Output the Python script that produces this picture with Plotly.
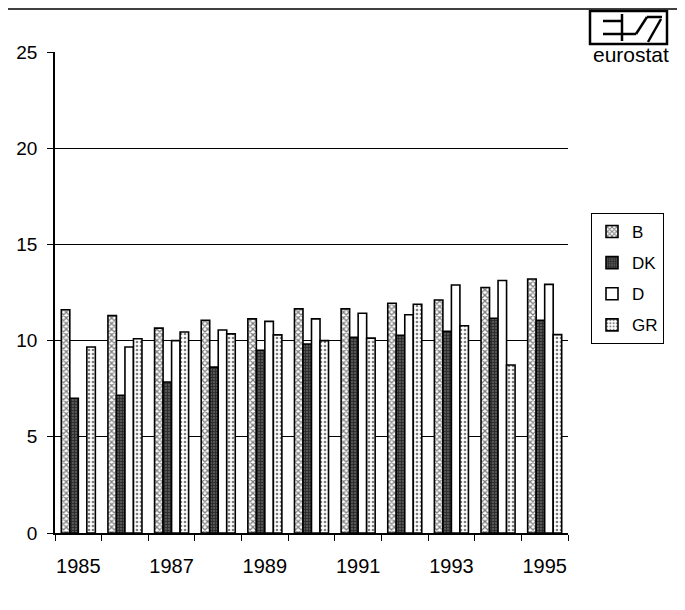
import plotly.graph_objects as go

years = [1985, 1986, 1987, 1988, 1989, 1990, 1991, 1992, 1993, 1994, 1995]
series_names = ["B", "DK", "D", "GR"]
B = [11.6, 11.3, 10.65, 11.05, 11.13, 11.65, 11.65, 11.94, 12.11, 12.76, 13.2]
DK = [7.0, 7.16, 7.85, 8.62, 9.5, 9.82, 10.17, 10.27, 10.48, 11.16, 11.05]
D = [None, 9.67, 10.0, 10.55, 11.0, 11.13, 11.42, 11.34, 12.89, 13.12, 12.92]
GR = [9.67, 10.1, 10.45, 10.35, 10.3, 10.0, 10.13, 11.89, 10.77, 8.73, 10.31]
x_labels = [1985, 1987, 1989, 1991, 1993, 1995]
y_ticks = [0, 5, 10, 15, 20, 25]

FONT = "Liberation Sans, Arial, sans-serif"

styles = {
    "B": dict(color="white", pattern=dict(shape="x", fgcolor="black", bgcolor="white", size=4, solidity=0.55)),
    "DK": dict(color="white", pattern=dict(shape="+", fgcolor="black", bgcolor="#555", size=3, solidity=0.5)),
    "D": dict(color="white"),
    "GR": dict(color="white", pattern=dict(shape=".", fgcolor="black", bgcolor="white", size=4, solidity=0.35)),
}

fig = go.Figure()
for name, vals in zip(series_names, [B, DK, D, GR]):
    m = dict(styles[name])
    m["line"] = dict(color="black", width=1.6)
    fig.add_trace(go.Bar(x=years, y=vals, name=name, marker=m, legendgroup=name))

# page has an 8px body margin; work in screen pixels and convert
OFF = 8
W, H = 685 - OFF, 610 - OFF
SL, SR, ST, SB = 55, 568, 52, 533          # plot area in screen pixels
L, R, T, Bt = SL - OFF, SR - OFF, ST - OFF, SB - OFF

def px(x):
    return (x - SL) / (SR - SL)
def py(y):
    return (SB - y) / (SB - ST)

def seg(x0, y0, x1, y1, w=2.5, dash=None):
    ln = dict(color="black", width=w)
    if dash:
        ln["dash"] = dash
    return dict(type="line", xref="paper", yref="paper",
                x0=px(x0), x1=px(x1), y0=py(y0), y1=py(y1), line=ln)

shapes = [
    seg(8, 9, 680, 9, 1.5),                 # top scan border
    seg(680, 8, 680, 610, 1.5, "dash"),     # right scan border
    dict(type="rect", xref="paper", yref="paper", x0=px(590), x1=px(667), y0=py(44), y1=py(11),
         line=dict(color="black", width=2.5)),
    seg(603, 21, 622, 21),
    seg(603, 34, 636, 34),
    seg(622, 14, 622, 41),
    seg(636, 34, 647, 17),
    seg(647, 17, 662, 17),
    seg(648, 42, 661, 19),
]

fig.update_layout(
    width=W, height=H,
    margin=dict(l=L, r=W - R, t=T, b=H - Bt, autoexpand=False),
    paper_bgcolor="white", plot_bgcolor="white",
    font=dict(family=FONT, size=16, color="black"),
    barmode="group", bargap=0.27, bargroupgap=0,
    showlegend=True,
    legend=dict(x=px(591), y=py(213), xanchor="left", yanchor="top",
                bordercolor="black", borderwidth=1, bgcolor="white",
                font=dict(family=FONT, size=17), tracegroupgap=6,
                traceorder="grouped", itemwidth=30),
    shapes=shapes,
    annotations=[dict(text="eurostat", xref="paper", yref="paper", x=px(631), y=py(55),
                      xanchor="center", yanchor="middle", showarrow=False,
                      font=dict(family=FONT, size=21, color="black"))],
)
fig.update_xaxes(range=[1984.5, 1995.5], tickvals=x_labels, ticktext=[str(v) for v in x_labels],
                 ticks="", showgrid=False, showline=True, linecolor="black", linewidth=1.5,
                 tickfont=dict(size=20), ticklabelstandoff=14,
                 minor=dict(tick0=1984.5, dtick=1, ticks="outside", ticklen=6, tickcolor="black", showgrid=False))
fig.update_yaxes(range=[0, 25], tickvals=y_ticks, ticks="outside", ticklen=6, tickcolor="black",
                 showgrid=True, gridcolor="black", gridwidth=1, showline=True, linecolor="black",
                 linewidth=1.5, zeroline=False, tickfont=dict(size=19), ticklabelstandoff=6)

fig.write_html("out.html")
